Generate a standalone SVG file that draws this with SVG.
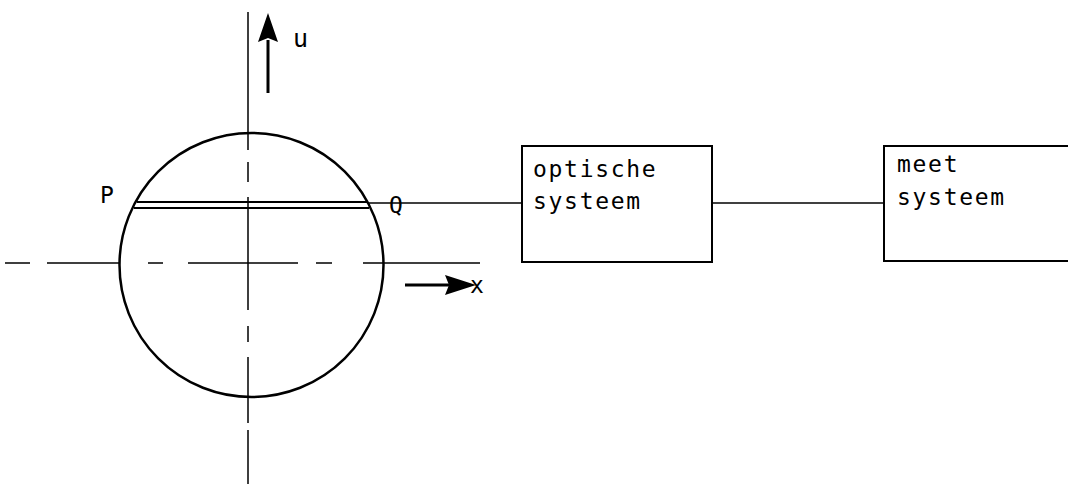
<svg xmlns="http://www.w3.org/2000/svg" width="1068" height="484" viewBox="0 0 1068 484">
<style>
.ln{stroke:#000;stroke-width:1.5;fill:none}
.thick{stroke:#000;stroke-width:2.5;fill:none}
.box{stroke:#000;stroke-width:2;fill:#fff}
.t{font-family:"DejaVu Sans Mono","Liberation Mono",monospace;font-size:23px;letter-spacing:1.7px;fill:#000}
.lbl{font-family:"DejaVu Sans Mono","Liberation Mono",monospace;font-size:23px;fill:#000}
</style>
<g id="axes">
<path class="ln" d="M248,12 V150 M248,162 V182 M248,197 V310 M248,326 V342 M248,357 V423 M248,430 V484"/>
<path class="ln" d="M5,263 H30 M47,263 H120 M148,263 H163 M188,263 H298 M316,263 H332 M363,263 H480"/>
</g>
<g id="circle">
<circle class="thick" cx="251.5" cy="265" r="132"/>
<path class="thick" d="M137,202 H368 M134,208 H369" style="stroke-width:2"/>
<text class="lbl" x="100" y="203">P</text>
<text class="lbl" x="389" y="213">Q</text>
</g>
<g id="u-arrow">
<path d="M268,93 V40" stroke="#000" stroke-width="3"/>
<path d="M268,13 L278,42 L268,38 L258,42 Z" fill="#000"/>
<text class="lbl" x="293" y="47" style="font-size:25px">u</text>
</g>
<g id="x-arrow">
<path d="M405,285 H450" stroke="#000" stroke-width="3"/>
<path d="M476,285 L445,275 L449,285 L445,295 Z" fill="#000"/>
<text class="lbl" x="470" y="293">x</text>
</g>
<g id="connectors">
<path class="ln" d="M369,203 H522"/>
<path class="ln" d="M712,203 H884"/>
</g>
<g id="optische">
<rect class="box" x="522" y="146" width="190" height="116"/>
<text class="t" x="533" y="177">optische</text>
<text class="t" x="533" y="209">systeem</text>
</g>
<g id="meet">
<path class="box" d="M1070,146 H884 V261 H1070"/>
<text class="t" x="897" y="172">meet</text>
<text class="t" x="897" y="205">systeem</text>
</g>
</svg>
